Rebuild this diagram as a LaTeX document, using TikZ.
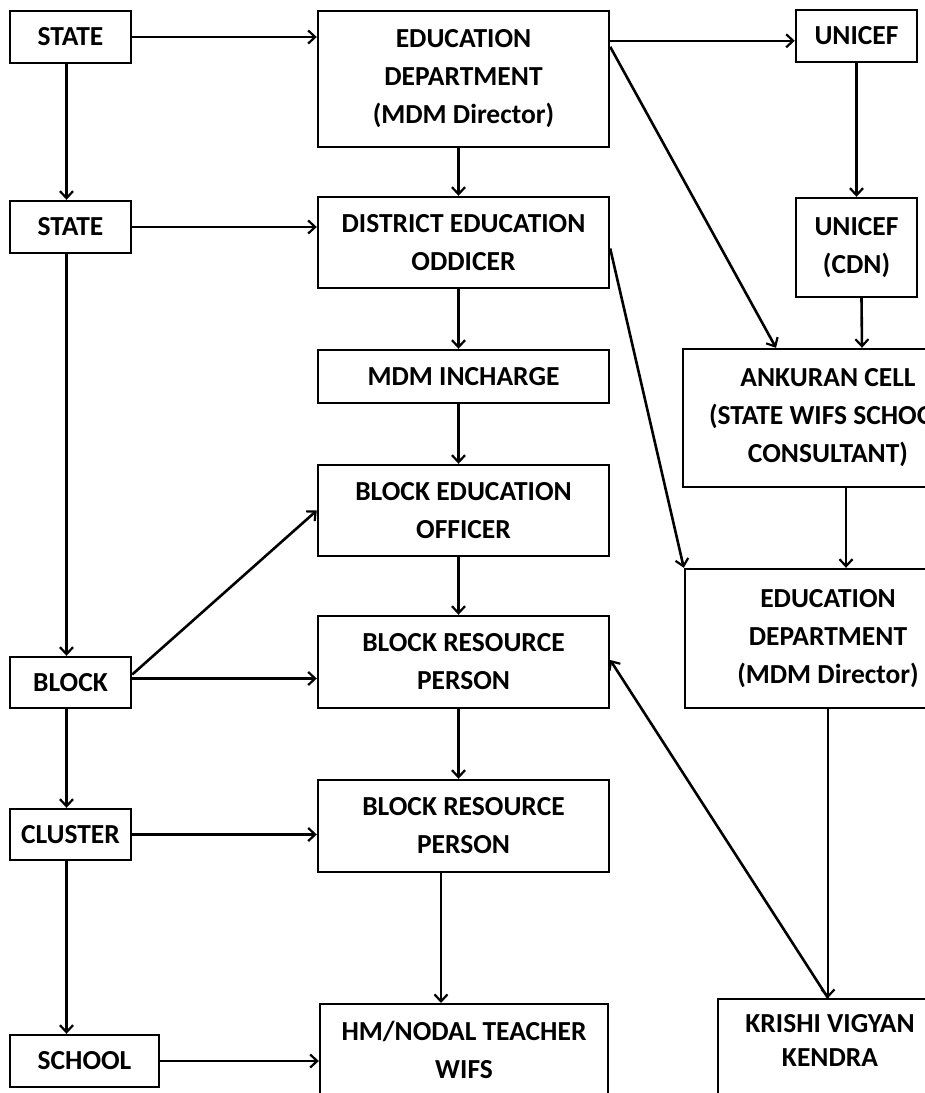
\documentclass[tikz,border=0pt]{standalone}
\usepackage{fontspec}
\setmainfont{Carlito}
\usetikzlibrary{arrows.meta}
\begin{document}
\begin{tikzpicture}[x=1pt,y=-1pt,
  box/.style={draw,line width=2.4pt,inner sep=0pt,align=center,
    font=\fontsize{27.5}{38}\selectfont\bfseries},
  txt/.style={inner sep=0pt,align=center,font=\fontsize{27.5}{38}\selectfont\bfseries},
  arr/.style={line width=2.6pt,-{Straight Barb[length=7pt,width=13pt,line width=2.2pt]}}]
\useasboundingbox (0,0) rectangle (925,1093);
\clip (0,0) rectangle (925,1093);
% left column
\node[box,minimum width=121pt,minimum height=52pt] (s1) at (70.5,37) {STATE};
\node[box,minimum width=121pt,minimum height=52pt] (s2) at (70.5,227) {STATE};
\node[box,minimum width=121pt,minimum height=51pt] (blk) at (70.5,682.5) {BLOCK};
\node[box,minimum width=121pt,minimum height=51pt] (clu) at (70.5,834.5) {CLUSTER};
\node[box,minimum width=149pt,minimum height=52pt] (sch) at (84.5,1061) {SCHOOL};
% middle column
\node[box,minimum width=291pt,minimum height=136pt] (edu1) at (463.5,79) {EDUCATION\\DEPARTMENT\\(MDM Director)};
\node[box,minimum width=291pt,minimum height=91pt] (deo) at (463.5,242.5) {DISTRICT EDUCATION\\ODDICER};
\node[box,minimum width=291pt,minimum height=53pt] (mdm) at (463.5,376.5) {MDM INCHARGE};
\node[box,minimum width=291pt,minimum height=91pt] (beo) at (463.5,510.5) {BLOCK EDUCATION\\OFFICER};
\node[box,minimum width=291pt,minimum height=92pt] (brp1) at (463.5,662) {BLOCK RESOURCE\\PERSON};
\node[box,minimum width=291pt,minimum height=92pt] (brp2) at (463.5,826) {BLOCK RESOURCE\\PERSON};
\node[box,anchor=north,minimum width=288pt,minimum height=120pt] (hm) at (464,1003) {};
\node[txt] (hmt) at (464,1050) {HM/NODAL TEACHER\\WIFS};
% right column
\node[box,minimum width=121pt,minimum height=52pt] (u1) at (856.5,36) {UNICEF};
\node[box,minimum width=121pt,minimum height=99pt] (u2) at (856.5,247.5) {UNICEF\\(CDN)};
\node[box,minimum width=290pt,minimum height=138pt] (ank) at (828,418) {ANKURAN CELL\\(STATE WIFS SCHOOL\\CONSULTANT)};
\node[box,minimum width=286pt,minimum height=139pt] (edu2) at (828,638.5) {EDUCATION\\DEPARTMENT\\(MDM Director)};
\node[box,anchor=north,minimum width=224pt,minimum height=130pt] (kvk) at (830,998) {};
\node[txt,font=\fontsize{27.5}{34}\selectfont\bfseries] (kvkt) at (830,1040) {KRISHI VIGYAN\\KENDRA};
% helper coordinates
\coordinate (blkA) at ([yshift=4pt]blk.east);
\coordinate (eduA) at ([yshift=-31pt]edu1.north east);
% left column arrows
\draw[arr] (s1.east) -- (edu1.west |- s1.east);
\draw[arr] ([xshift=-4pt]s1.south) -- ([xshift=-4pt]s2.north);
\draw[arr] (s2.east) -- (deo.west |- s2.east);
\draw[arr] ([xshift=-4pt]s2.south) -- ([xshift=-4pt]blk.north);
\draw[arr] ([yshift=8pt]blk.east) -- (beo.west);
\draw[arr] (blkA) -- (brp1.west |- blkA);
\draw[arr] ([xshift=-4pt]blk.south) -- ([xshift=-4pt]clu.north);
\draw[arr] (clu.east) -- (brp2.west |- clu.east);
\draw[arr] ([xshift=-4pt]clu.south) -- ([xshift=-18pt]sch.north);
\draw[arr] (sch.east) -- (hm.west |- sch.east);
% middle column arrows
\draw[arr] ([xshift=-5pt]edu1.south) -- ([xshift=-5pt]deo.north);
\draw[arr] ([xshift=-5pt]deo.south) -- ([xshift=-5pt]mdm.north);
\draw[arr] ([xshift=-5pt]mdm.south) -- ([xshift=-5pt]beo.north);
\draw[arr] ([xshift=-5pt]beo.south) -- ([xshift=-5pt]brp1.north);
\draw[arr] ([xshift=-5pt]brp1.south) -- ([xshift=-5pt]brp2.north);
\draw[arr] ([xshift=-22.5pt]brp2.south) -- ([xshift=-23pt]hm.north);
% right side arrows
\draw[arr] (eduA) -- (u1.west |- eduA);
\draw[arr] ([yshift=-37pt]edu1.north east) -- ([xshift=-52pt]ank.north);
\draw[arr] (u1.south) -- (u2.north);
\draw[arr] ([xshift=5pt]u2.south) -- ([xshift=34pt]ank.north);
\draw[arr] ([yshift=-6pt]deo.east) -- (edu2.north west);
\draw[arr] ([xshift=18pt]ank.south) -- ([xshift=18pt]edu2.north);
\draw[arr] (edu2.south) -- ([xshift=-2pt]kvk.north);
\draw[arr] ([xshift=-2pt]kvk.north) -- ([yshift=2pt]brp1.east);
\end{tikzpicture}
\end{document}
